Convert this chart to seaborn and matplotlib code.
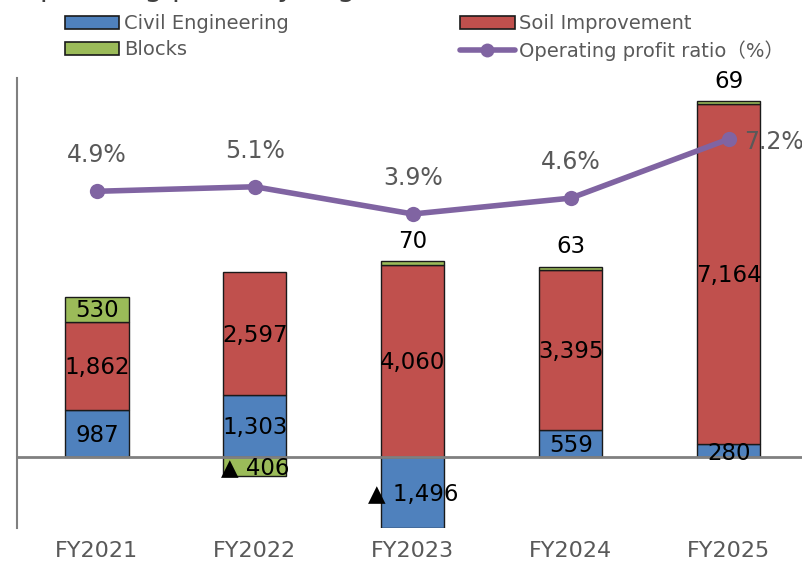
import numpy as np
import pandas as pd
import matplotlib
matplotlib.use("Agg")
import matplotlib.pyplot as plt
from matplotlib.patches import Patch
from matplotlib.lines import Line2D
import seaborn as sns

# ---- data ----
years = ["FY2021", "FY2022", "FY2023", "FY2024", "FY2025"]
civil = [987, 1303, -1496, 559, 280]
soil = [1862, 2597, 4060, 3395, 7164]
blocks = [530, -406, 70, 63, 69]
ratio = [4.9, 5.1, 3.9, 4.6, 7.2]

C_CIVIL = "#4F81BD"
C_SOIL = "#C0504D"
C_BLOCK = "#9BBB59"
C_LINE = "#8064A2"
GRAY_TXT = "#595959"

sns.set_theme(style="white")
plt.rcParams["font.family"] = ["DejaVu Sans", "Noto Sans CJK JP"]

civil_a = np.array(civil, float)
soil_a = np.array(soil, float)
blocks_a = np.array(blocks, float)
pos_civil = np.clip(civil_a, 0, None)
blocks_bottom = np.where(blocks_a >= 0, pos_civil + soil_a, np.clip(civil_a, None, 0))

df = pd.DataFrame({"year": years, "civil": civil_a, "soil": soil_a, "blocks": blocks_a})

fig = plt.figure(figsize=(8.03, 5.61), dpi=100)
ax = fig.add_axes([17 / 803, 1 - 528 / 561, 1 - 17 / 803, (528 - 78) / 561])

common = dict(width=0.4, saturation=1, edgecolor="#1a1a1a", linewidth=1.0, ax=ax, order=years)
sns.barplot(data=df, x="year", y="civil", color=C_CIVIL, bottom=np.zeros(5), **common)
sns.barplot(data=df, x="year", y="soil", color=C_SOIL, bottom=pos_civil, **common)
sns.barplot(data=df, x="year", y="blocks", color=C_BLOCK, bottom=blocks_bottom, **common)

ax.set_ylim(-1500, 8000)
ax.set_xlim(-0.506, 4.47)
ax.set_xlabel("")
ax.set_ylabel("")
ax.set_yticks([])
ax.tick_params(axis="x", length=0, pad=9.5, labelsize=16, labelcolor=GRAY_TXT)
for s in ["top", "right", "bottom"]:
    ax.spines[s].set_visible(False)
ax.spines["left"].set_color("#808080")
ax.spines["left"].set_linewidth(1.5)
ax.axhline(0, color="#808080", lw=2, zorder=5)

def fmt(v):
    return ("▲ " if v < 0 else "") + f"{abs(int(v)):,}"

xs = np.arange(len(years))
for i in xs:
    c = civil_a[i]
    ax.text(i, c / 2 - (60 if i == 4 else 40), fmt(c), ha="center", va="center", fontsize=16.5, color="black", zorder=6)
    ax.text(i, pos_civil[i] + soil_a[i] / 2 - 40, fmt(soil_a[i]), ha="center", va="center", fontsize=16.5, color="black", zorder=6)
    b = blocks_a[i]
    if abs(b) > 300:
        ax.text(i, blocks_bottom[i] + b / 2 - 30, fmt(b), ha="center", va="center", fontsize=16.5, color="black", zorder=6)
    else:
        ax.annotate(fmt(b), (i, blocks_bottom[i] + b), xytext=(0, 6), textcoords="offset points",
                    ha="center", va="bottom", fontsize=16.5, color="black", zorder=6)

ax2 = ax.twinx()
sns.lineplot(x=xs, y=ratio, ax=ax2, color=C_LINE, lw=4, marker="o", markersize=11,
             markeredgewidth=0, zorder=7)
ax2.set_ylim(-9.93, 9.89)
ax2.set_yticks([])
for s in ax2.spines.values():
    s.set_visible(False)
for i, r in enumerate(ratio):
    if i == len(ratio) - 1:
        ax2.annotate(f"{r}%", (i, r), xytext=(11, -2), textcoords="offset points",
                     ha="left", va="center", fontsize=17, color=GRAY_TXT)
    else:
        ax2.annotate(f"{r}%", (i, r), xytext=(0, 26), textcoords="offset points",
                     ha="center", va="center", fontsize=17, color=GRAY_TXT)

handles = [
    Patch(facecolor=C_CIVIL, edgecolor="#1a1a1a", lw=1.2, label="Civil Engineering"),
    Patch(facecolor=C_BLOCK, edgecolor="#1a1a1a", lw=1.2, label="Blocks"),
    Patch(facecolor=C_SOIL, edgecolor="#1a1a1a", lw=1.2, label="Soil Improvement"),
    Line2D([0], [0], color=C_LINE, lw=4, marker="o", markersize=10, markeredgewidth=0,
           label="Operating profit ratio（%）"),
]
leg = fig.legend(handles=handles, ncol=2, loc="upper left", bbox_to_anchor=(65 / 803, 1 - 14 / 561),
                 frameon=False, fontsize=14, handlelength=2.8, handleheight=0.65, handletextpad=0.25,
                 columnspacing=8.8, labelspacing=0.38, borderaxespad=0, borderpad=0)
for t in leg.get_texts():
    t.set_color(GRAY_TXT)

fig.text(17 / 803, 1 + 4 / 561, "Operating profit by segment", fontsize=21, color="#404040",
         ha="left", va="baseline")

fig.savefig("out.png", dpi=100)
